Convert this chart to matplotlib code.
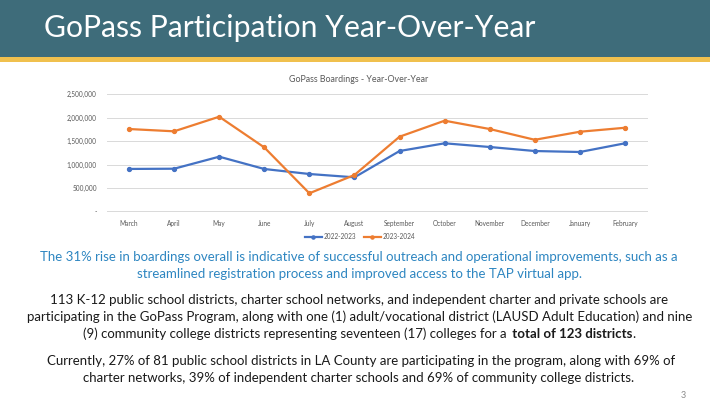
import matplotlib
matplotlib.use("Agg")
import matplotlib.pyplot as plt
from matplotlib.ticker import FuncFormatter

months = ["March", "April", "May", "June", "July", "August", "September",
          "October", "November", "December", "January", "February"]
y2223 = [905000, 910000, 1167000, 904000, 797000, 726000, 1288000,
         1453000, 1374000, 1288000, 1267000, 1453000]
y2324 = [1758000, 1709000, 2021000, 1365000, 385000, 776000, 1594000,
         1936000, 1758000, 1528000, 1700000, 1785000]
series_names = ["2022-2023", "2023-2024"]
yticks = [0, 500000, 1000000, 1500000, 2000000, 2500000]

slide_title = "GoPass Participation Year-Over-Year"
chart_title = "GoPass Boardings - Year-Over-Year"
blue_lines = [
    "The 31% rise in boardings overall is indicative of successful outreach and operational improvements, such as a",
    "streamlined registration process and improved access to the TAP virtual app.",
]
para1 = [
    [("113 K-12 public school districts, charter school networks, and independent charter and private schools are", "normal")],
    [("participating in the GoPass Program, along with one (1) adult/vocational district (LAUSD Adult Education) and nine", "normal")],
    [("(9) community college districts representing seventeen (17) colleges for a", "normal"),
     (" total of 123 districts", "bold"), (".", "normal")],
]
para2 = [
    [("Currently, 27% of 81 public school districts in LA County are participating in the program, along with 69% of", "normal")],
    [("charter networks, 39% of independent charter schools and 69% of community college districts.", "normal")],
]

W, H = 710, 409
FONT = "Lato"
fig = plt.figure(figsize=(W / 100, H / 100), dpi=100)
fig.patch.set_facecolor("white")

# header band
fig.patches.append(plt.Rectangle((0, 1 - 57 / H), 1, 57 / H, transform=fig.transFigure,
                                 facecolor="#3e6c7a", edgecolor="none", zorder=0))
fig.patches.append(plt.Rectangle((0, 1 - 62 / H), 1, 5 / H, transform=fig.transFigure,
                                 facecolor="#f0c04e", edgecolor="none", zorder=0))

renderer = fig.canvas.get_renderer()


def fx(x):
    return x / W


def fy(y):
    return 1 - y / H


def fit_line(segments, cx, cy, target_w, color, base=10):
    full = fig.text(0, 0, "".join(s for s, _ in segments), fontsize=base, family=FONT)
    total_plain = full.get_window_extent(renderer).width
    full.remove()
    widths = []
    for txt, wt in segments:
        t = fig.text(0, 0, txt, fontsize=base, fontweight=wt, family=FONT)
        widths.append(t.get_window_extent(renderer).width)
        t.remove()
    total = sum(widths)
    s = target_w / total
    fs = base * s
    x = cx - target_w / 2
    for (txt, wt), w in zip(segments, widths):
        fig.text(fx(x), fy(cy), txt, fontsize=fs, fontweight=wt, family=FONT,
                 color=color, ha="left", va="center")
        x += w * s
    return fs


# slide title
t = fig.text(0, 0, slide_title, fontsize=20, family=FONT)
tw = t.get_window_extent(renderer).width
t.remove()
fig.text(fx(44), fy(37), slide_title, fontsize=20 * 493 / tw, family=FONT,
         color="white", ha="left", va="baseline")

# blue text
fit_line([(blue_lines[0], "normal")], 359.5, 257, 640, "#2e86c1")
fit_line([(blue_lines[1], "normal")], 360, 273.5, 446, "#2e86c1")

# paragraph 1
fit_line(para1[0], 360, 299.5, 620, "#1a1a1a")
fit_line(para1[1], 359.7, 317, 666, "#1a1a1a")
fit_line(para1[2], 359.2, 334, 553, "#1a1a1a")
# paragraph 2
fit_line(para2[0], 360.5, 361, 626, "#1a1a1a")
fit_line(para2[1], 359.2, 377.5, 553, "#1a1a1a")

fig.text(fx(683), fy(395), "3", fontsize=6.5, family=FONT, color="#8c8c8c",
         ha="center", va="center")

# chart
ax = fig.add_axes([fx(106.5), fy(211.3), (647.5 - 106.5) / W, (211.3 - 94.3) / H])
x = list(range(len(months)))
c1, c2 = "#4472c4", "#ed7d31"
ax.plot(x, y2223, color=c1, lw=1.6, marker="o", ms=2.8, label=series_names[0], zorder=3)
ax.plot(x, y2324, color=c2, lw=1.6, marker="o", ms=2.8, label=series_names[1], zorder=3)
ax.set_xlim(-0.5, len(months) - 0.5)
ax.set_ylim(0, 2500000)
ax.set_yticks(yticks)
ax.yaxis.set_major_formatter(FuncFormatter(lambda v, p: "-" if v == 0 else f"{int(v):,}"))
ax.set_xticks(x)
ax.set_xticklabels(months)
ax.grid(axis="y", color="#d9d9d9", lw=0.7)
ax.set_axisbelow(True)
for side in ["top", "right", "left"]:
    ax.spines[side].set_visible(False)
ax.spines["bottom"].set_color("#d9d9d9")
ax.spines["bottom"].set_linewidth(0.7)
ax.tick_params(axis="both", length=0, labelsize=4.7, labelcolor="#595959")
ax.tick_params(axis="x", pad=6.5)
ax.tick_params(axis="y", pad=7)
for lab in ax.get_xticklabels() + ax.get_yticklabels():
    lab.set_family(FONT)
ax.set_facecolor("none")

fig.text(fx(359), fy(79), chart_title, fontsize=6.4, family=FONT, color="#595959",
         ha="center", va="center")

leg = ax.legend(loc="center", bbox_to_anchor=(fx(360), fy(236.5)),
                bbox_transform=fig.transFigure, ncol=2, frameon=False,
                prop={"family": FONT, "size": 4.7}, handlelength=2.6,
                columnspacing=1.2, handletextpad=0.3, markerscale=0.8)
for txt in leg.get_texts():
    txt.set_color("#595959")

fig.savefig("out.png", dpi=100)
